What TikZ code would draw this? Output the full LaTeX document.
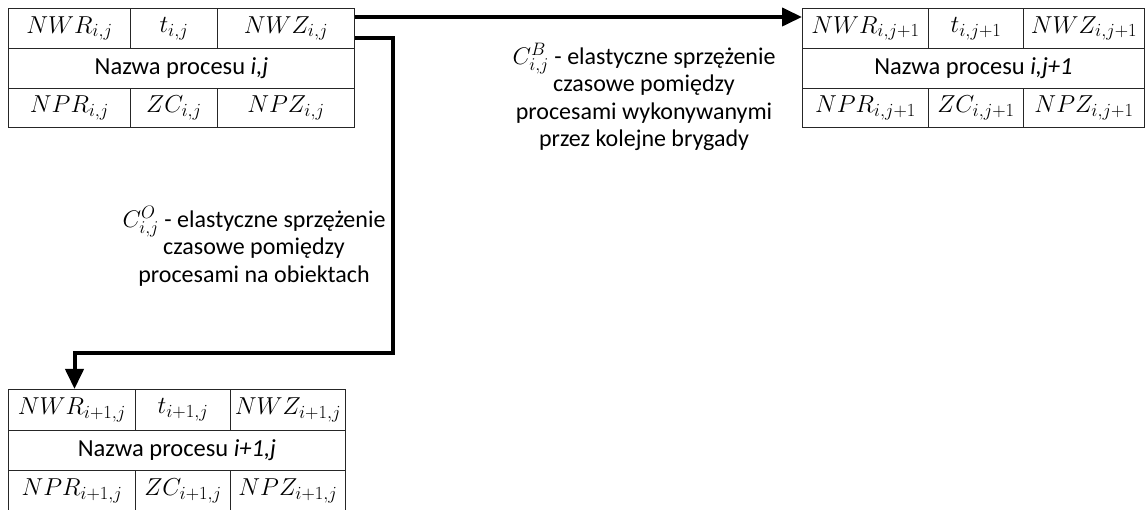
\RequirePackage{fix-cm}
\documentclass[tikz,border=0pt]{standalone}
\usepackage{fontspec}
\setmainfont{Carlito}
\usetikzlibrary{arrows.meta}
\DeclareMathSizes{24.5}{24.5}{18.5}{14}
\DeclareMathSizes{24}{24}{18}{14}
\newcommand\cellfont{\fontsize{24.5}{27}\selectfont}
\tikzset{
  cell/.style={draw=black!85, line width=1pt, anchor=north west, inner sep=0pt, font=\cellfont},
  link/.style={line width=4pt, -{Triangle[length=20pt,width=18pt]}},
  note/.style={align=center, inner sep=0pt, font=\fontsize{24}{27.5}\selectfont},
}
\begin{document}
\begin{tikzpicture}[x=1pt,y=-1pt]
\useasboundingbox (0,0) rectangle (1146,510);

% process i,j
\node[cell, minimum width=122pt, minimum height=40pt] (a1) at (8,8)   {$NWR_{i,j}$};
\node[cell, minimum width=87pt,  minimum height=40pt] (a2) at (130,8) {$t_{i,j}$};
\node[cell, minimum width=137pt, minimum height=40pt] (a3) at (217,8) {$NWZ_{i,j}$};
\node[cell, minimum width=346pt, minimum height=40pt] (a4) at (8,48)  {Nazwa procesu \textit{i,j}};
\node[cell, minimum width=122pt, minimum height=39pt] (a5) at (8,88)   {$NPR_{i,j}$};
\node[cell, minimum width=87pt,  minimum height=39pt] (a6) at (130,88) {$ZC_{i,j}$};
\node[cell, minimum width=137pt, minimum height=39pt] (a7) at (217,88) {$NPZ_{i,j}$};

% process i,j+1
\node[cell, minimum width=126pt, minimum height=40pt] (b1) at (802,8)  {$NWR_{i,j+1}$};
\node[cell, minimum width=95pt,  minimum height=40pt] (b2) at (928,8)  {$t_{i,j+1}$};
\node[cell, minimum width=121pt, minimum height=40pt] (b3) at (1023,8) {$NWZ_{i,j+1}$};
\node[cell, minimum width=342pt, minimum height=40pt] (b4) at (802,48) {Nazwa procesu \textit{i,j+1}};
\node[cell, minimum width=126pt, minimum height=39pt] (b5) at (802,88)  {$NPR_{i,j+1}$};
\node[cell, minimum width=95pt,  minimum height=39pt] (b6) at (928,88)  {$ZC_{i,j+1}$};
\node[cell, minimum width=121pt, minimum height=39pt] (b7) at (1023,88) {$NPZ_{i,j+1}$};

% process i+1,j
\node[cell, minimum width=127pt, minimum height=41pt] (c1) at (8,389)   {$NWR_{i+1,j}$};
\node[cell, minimum width=95pt,  minimum height=41pt] (c2) at (135,389) {$t_{i+1,j}$};
\node[cell, minimum width=115pt, minimum height=41pt] (c3) at (230,389) {$NWZ_{i+1,j}$};
\node[cell, minimum width=337pt, minimum height=40pt] (c4) at (8,430)   {Nazwa procesu \textit{i+1,j}};
\node[cell, minimum width=127pt, minimum height=41pt] (c5) at (8,470)   {$NPR_{i+1,j}$};
\node[cell, minimum width=95pt,  minimum height=41pt] (c6) at (135,470) {$ZC_{i+1,j}$};
\node[cell, minimum width=115pt, minimum height=41pt] (c7) at (230,470) {$NPZ_{i+1,j}$};

% couplings
\coordinate (drop) at (393,353);
\draw[link] ([yshift=-9pt]a3.north east) -- ([yshift=-9pt]b1.north west);
\draw[link] ([yshift=-30pt]a3.north east) -| (drop) -| ([xshift=2.5pt]c1.north);

\node[note] (lb) at (644,97) {$C^{B}_{i,j}$ - elastyczne sprzężenie\\czasowe pomiędzy\\procesami wykonywanymi\\przez kolejne brygady};
\node[note] (lo) at (254,246) {$C^{O}_{i,j}$ - elastyczne sprzężenie\\czasowe pomiędzy\\procesami na obiektach};
\end{tikzpicture}
\end{document}
